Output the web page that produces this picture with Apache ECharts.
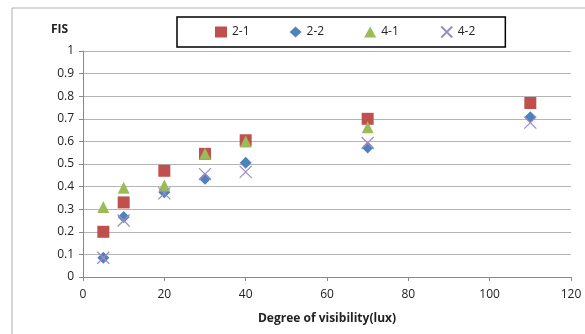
<!DOCTYPE html>
<html>
<head>
<meta charset="utf-8">
<script src="https://cdn.jsdelivr.net/npm/echarts@6/dist/echarts.min.js"></script>
<style>
  html, body { margin: 0; padding: 0; background: #fff; }
  #scatterChart { width: 585px; height: 334px; }
</style>
</head>
<body>
<div id="scatterChart"></div>
<script>
// lux values and FIS per series
var lux = [5, 10, 20, 30, 40, 70, 110];
var s21 = [0.20, 0.33, 0.47, 0.545, 0.605, 0.70, 0.77];
var s22 = [0.085, 0.265, 0.375, 0.435, 0.505, 0.573, 0.707];
var s41 = [0.31, 0.395, 0.405, 0.545, 0.60, 0.663, null];
var s42 = [0.085, 0.25, 0.37, 0.455, 0.465, 0.593, 0.683];
var seriesNames = ["2-1", "2-2", "4-1", "4-2"];

function pairs(ys) {
  var out = [];
  for (var i = 0; i < lux.length; i++) {
    if (ys[i] != null) out.push([lux[i], ys[i]]);
  }
  return out;
}

var font = "'Open Sans', 'Liberation Sans', sans-serif";
var chart = echarts.init(document.getElementById("scatterChart"));
chart.setOption({
  animation: false,
  textStyle: { fontFamily: font },
  title: {
    text: "FIS",
    left: 46,
    top: 19,
    textStyle: { fontSize: 12, fontWeight: "bold", color: "#222", fontFamily: font }
  },
  graphic: [{
    type: "rect",
    shape: { x: 12, y: 8, width: 600, height: 400 },
    style: { fill: "none", stroke: "#b0b0b0", lineWidth: 1 },
    silent: true
  }],
  legend: {
    data: seriesNames,
    left: 177,
    top: 17,
    padding: [7, 30, 7, 38],
    itemGap: 40,
    itemWidth: 12,
    itemHeight: 11,
    borderColor: "#000",
    borderWidth: 1.5,
    textStyle: { fontSize: 12, color: "#222", fontFamily: font }
  },
  grid: { left: 83, right: 14, top: 51, bottom: 57 },
  xAxis: {
    type: "value",
    min: 0,
    max: 120,
    interval: 20,
    name: "Degree of visibility(lux)",
    nameLocation: "middle",
    nameGap: 36,
    nameTextStyle: { fontSize: 12, fontWeight: "bold", color: "#222" },
    axisLine: { lineStyle: { color: "#888" } },
    axisTick: { show: true, length: 4, lineStyle: { color: "#888" } },
    axisLabel: { fontSize: 12, color: "#222", margin: 12 },
    splitLine: { show: false }
  },
  yAxis: {
    type: "value",
    min: 0,
    max: 1,
    interval: 0.1,
    axisLine: { show: true, lineStyle: { color: "#888" } },
    axisTick: { show: true, length: 4, lineStyle: { color: "#888" } },
    axisLabel: { fontSize: 12, color: "#222", margin: 9 },
    splitLine: { lineStyle: { color: "#b4b4b4" } }
  },
  series: [
    {
      name: "2-1",
      type: "scatter",
      symbol: "rect",
      symbolSize: 12,
      itemStyle: { color: "#c0504d", opacity: 1 },
      data: pairs(s21)
    },
    {
      name: "2-2",
      type: "scatter",
      symbol: "diamond",
      symbolSize: 12,
      itemStyle: { color: "#4f81bd", opacity: 1 },
      data: pairs(s22)
    },
    {
      name: "4-1",
      type: "scatter",
      symbol: "triangle",
      symbolSize: 12,
      itemStyle: { color: "#9bbb59", opacity: 1 },
      data: pairs(s41)
    },
    {
      name: "4-2",
      type: "scatter",
      symbol: "path://M0,0L10,10M10,0L0,10",
      symbolSize: 12,
      itemStyle: { color: "none", borderColor: "#9d8cc4", borderWidth: 1.2, opacity: 1 },
      data: pairs(s42)
    }
  ]
});
</script>
</body>
</html>
